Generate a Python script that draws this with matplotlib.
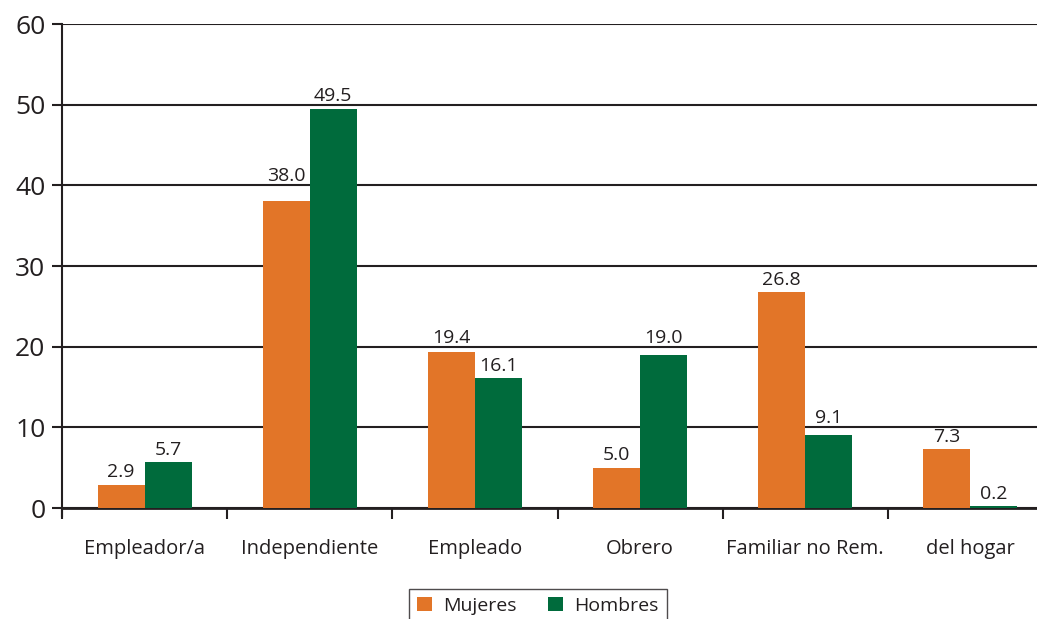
import matplotlib
matplotlib.use("Agg")
import math
import numpy as np
from matplotlib import pyplot as plt
from matplotlib.patches import Patch

# Data
categorias = ["Empleador/a", "Independiente", "Empleado", "Obrero", "Familiar no Rem.", "del hogar"]
mujeres = [2.9, 38.0, 19.4, 5.0, 26.8, 7.3]
hombres = [5.7, 49.5, 16.1, 19.0, 9.1, 0.2]
series_names = ["Mujeres", "Hombres"]
yticks = [0, 10, 20, 30, 40, 50, 60]

orange = "#E27528"
green = "#006B3C"
ink = "#231F20"

plt.rcParams["font.family"] = ["Open Sans", "DejaVu Sans"]

fig = plt.figure(figsize=(10.37, 6.19), dpi=100)
# plot area runs off the right edge like the original
ax = fig.add_axes([62 / 1037, 1 - 508 / 619, (1053 - 62) / 1037, (508 - 24) / 619])

x = np.arange(len(categorias))
w = 0.285
b1 = ax.bar(x - w / 2, mujeres, w, color=orange, zorder=3)
b2 = ax.bar(x + w / 2, hombres, w, color=green, zorder=3)

# value labels: a small gap above the bar, but lifted over a gridline
# when the text would otherwise sit on top of it
gap = 0.9      # data units
cap = 1.5      # approx. height of the digits in data units
for bars, vals in [(b1, mujeres), (b2, hombres)]:
    for rect, v in zip(bars, vals):
        base = v + gap
        g = math.ceil(v / 10) * 10
        if base < g + 0.5 and base + cap > g:
            base = g + 0.5
        ax.text(rect.get_x() + rect.get_width() / 2, base, "%.1f" % v,
                ha="center", va="baseline", fontsize=14, color=ink, zorder=4)

ax.set_xlim(-0.5, len(categorias) - 0.5)
ax.set_ylim(0, 60)
ax.set_yticks(yticks)
ax.tick_params(axis="y", labelsize=19, colors=ink, length=7, width=1.5, pad=5)
ax.yaxis.grid(True, color=ink, linewidth=1.5, zorder=1)
ax.set_axisbelow(True)

# category separators as minor ticks, labels centred
ax.set_xticks(x)
ax.set_xticklabels(categorias, fontsize=14.5, color=ink)
ax.set_xticks(np.arange(len(categorias) + 1) - 0.5, minor=True)
ax.tick_params(axis="x", which="major", length=0, pad=22)
ax.tick_params(axis="x", which="minor", length=8, width=1.5, color=ink, direction="out")

for s in ["top", "right"]:
    ax.spines[s].set_visible(False)
ax.spines["left"].set_color(ink)
ax.spines["left"].set_linewidth(1.5)
ax.spines["left"].set_bounds(-1.0, 60)
ax.spines["bottom"].set_color(ink)
ax.spines["bottom"].set_linewidth(2)

handles = [Patch(facecolor=orange), Patch(facecolor=green)]
leg = fig.legend(handles, series_names, loc="upper center",
                 bbox_to_anchor=(538 / 1037, 1 - 589 / 619), ncol=2,
                 fontsize=14, frameon=True, fancybox=False, borderaxespad=0,
                 handlelength=0.75, handleheight=0.75, handletextpad=0.6,
                 columnspacing=1.6, borderpad=0.4, labelcolor=ink)
leg.get_frame().set_edgecolor(ink)
leg.get_frame().set_linewidth(1)

fig.savefig("out.png", dpi=100)
